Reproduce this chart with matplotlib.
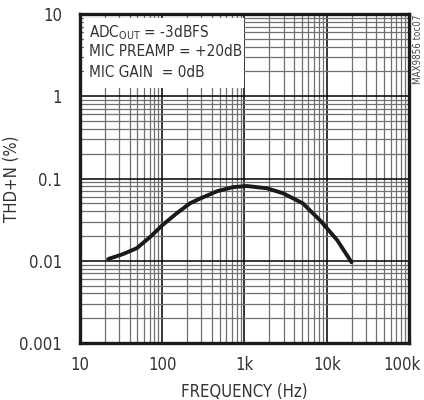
import matplotlib
matplotlib.use("Agg")
import matplotlib.pyplot as plt
from matplotlib.transforms import ScaledTranslation
from matplotlib.ticker import FixedLocator, LogLocator, NullFormatter

plt.rcParams['font.family'] = ['DejaVu Sans']
plt.rcParams['font.stretch'] = 'condensed'

# THD+N vs frequency
freq_hz = [22, 33, 49, 71, 100, 151, 218, 288, 464, 725, 1070, 1880, 2960,
           5100, 8300, 13400, 20000]
thdn_pct = [0.0105, 0.012, 0.0142, 0.0194, 0.027, 0.038, 0.050, 0.057, 0.070,
            0.0785, 0.081, 0.076, 0.066, 0.050, 0.031, 0.0178, 0.0096]

x_ticks = [10, 100, 1000, 10000, 100000]
x_labels = ['10', '100', '1k', '10k', '100k']
y_ticks = [0.001, 0.01, 0.1, 1, 10]
y_labels = ['0.001', '0.01', '0.1', '1', '10']

fig = plt.figure(figsize=(4.24, 4.0), dpi=100)
ax = fig.add_axes([0.1887, 0.1425, 0.9646 - 0.1887, 0.965 - 0.1425])

ax.plot(freq_hz, thdn_pct, color='#1a1a1a', lw=2.8, solid_capstyle='round', zorder=4)

ax.set_xscale('log')
ax.set_yscale('log')
ax.set_xlim(10, 100000)
ax.set_ylim(0.001, 10)

ax.xaxis.set_major_locator(FixedLocator(x_ticks))
ax.set_xticklabels(x_labels)
ax.yaxis.set_major_locator(FixedLocator(y_ticks))
ax.set_yticklabels(y_labels)
ax.xaxis.set_minor_locator(LogLocator(base=10, subs=range(2, 10), numticks=20))
ax.yaxis.set_minor_locator(LogLocator(base=10, subs=range(2, 10), numticks=20))
ax.xaxis.set_minor_formatter(NullFormatter())
ax.yaxis.set_minor_formatter(NullFormatter())

ax.grid(which='major', color='black', lw=1.1, zorder=1)
ax.grid(which='minor', color='#707070', lw=0.9, zorder=1)
ax.set_axisbelow(True)
ax.tick_params(which='both', length=0, labelsize=12, colors='#333333')
ax.tick_params(axis='x', pad=9)
ax.tick_params(axis='y', pad=13)
# nudge the last frequency label so it stays inside the figure
last = ax.get_xticklabels()[-1]
last.set_transform(last.get_transform() + ScaledTranslation(-5 / 72, 0, fig.dpi_scale_trans))

for s in ax.spines.values():
    s.set_linewidth(2.4)
    s.set_color('#1a1a1a')

ax.set_xlabel('FREQUENCY (Hz)', fontsize=12, color='#333333')
ax.set_ylabel('THD+N (%)', fontsize=12, color='#333333')
ax.xaxis.set_label_coords(0.5, -0.122)
ax.yaxis.set_label_coords(-0.178, 0.5)

# white patch behind the conditions
box = plt.Rectangle((0.011, 0.775), 0.487, 0.212, transform=ax.transAxes,
                    facecolor='white', edgecolor='none', zorder=2)
ax.add_patch(box)
cond = ['ADC$_{\\rm OUT}$ = -3dBFS', 'MIC PREAMP = +20dB', 'MIC GAIN  = 0dB']
for i, t in enumerate(cond):
    ax.text(0.028, 0.972 - i * 0.063, t, transform=ax.transAxes, fontsize=11,
            color='#333333', va='top', ha='left', zorder=3)

fig.text(0.986, 0.963, 'MAX9856 toc07', rotation=90, fontsize=7,
         color='#444444', va='top', ha='center')

fig.savefig('out.png', dpi=100)
